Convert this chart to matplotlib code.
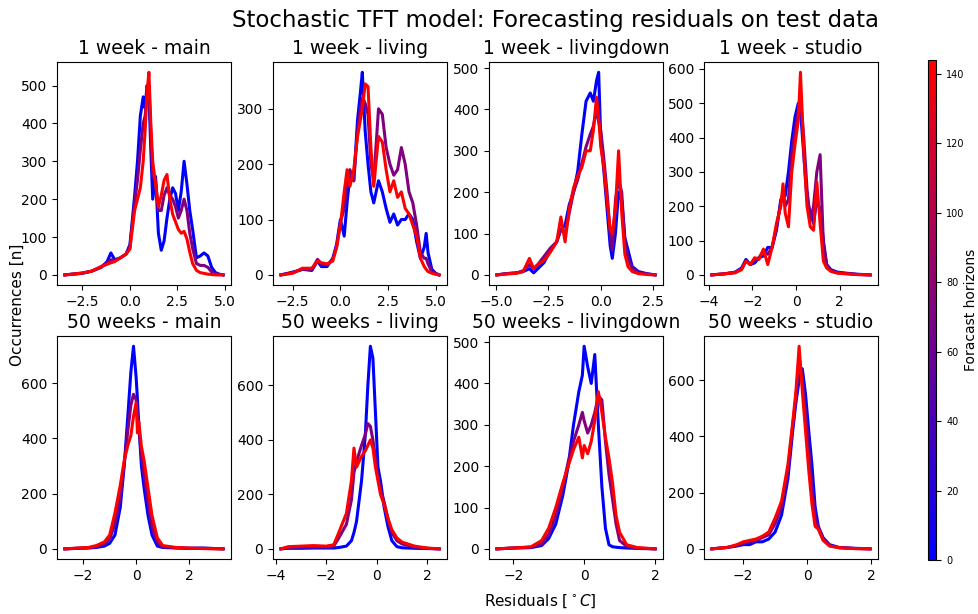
import numpy as np
import matplotlib
matplotlib.use("Agg")
import matplotlib.pyplot as plt
from matplotlib.colors import LinearSegmentedColormap, Normalize
from matplotlib.cm import ScalarMappable
from matplotlib.ticker import MultipleLocator

# ---------------------------------------------------------------------------
# Residual histograms (bin centre -> occurrences) for selected forecast horizons
# ---------------------------------------------------------------------------
horizons = [0, 72, 143]
n_horizons = 144

titles = ["1 week - main", "1 week - living", "1 week - livingdown", "1 week - studio",
          "50 weeks - main", "50 weeks - living", "50 weeks - livingdown", "50 weeks - studio"]

# 1 week - main
x_w1_main = [-3.42, -3.0, -2.5, -2.0, -1.5, -1.2, -1.0, -0.8, -0.5, -0.2, 0.0, 0.1, 0.25, 0.4,
             0.55, 0.7, 0.8, 0.9, 1.0, 1.1, 1.2, 1.35, 1.5, 1.65, 1.8, 1.95, 2.1, 2.25, 2.4,
             2.55, 2.7, 2.85, 3.0, 3.15, 3.3, 3.5, 3.7, 3.9, 4.1, 4.3, 4.5, 4.7, 4.9]
y_w1_main_h0 = [0, 2, 4, 10, 20, 35, 58, 40, 45, 55, 80, 130, 210, 300, 420, 470, 440, 500, 480,
                330, 200, 260, 110, 65, 90, 150, 200, 230, 215, 170, 220, 300, 240, 170, 120,
                45, 50, 58, 50, 20, 6, 2, 0]
y_w1_main_h72 = [0, 2, 5, 10, 22, 32, 40, 38, 45, 55, 72, 120, 190, 250, 330, 400, 420, 470, 500,
                 380, 260, 250, 170, 170, 210, 230, 210, 200, 180, 150, 170, 200, 170, 110, 70,
                 30, 25, 25, 20, 8, 3, 1, 0]
y_w1_main_h143 = [0, 2, 5, 10, 22, 28, 32, 35, 45, 55, 68, 110, 170, 200, 230, 300, 380, 480, 535,
                  400, 300, 240, 180, 210, 250, 265, 200, 160, 140, 120, 110, 115, 95, 60, 30,
                  12, 6, 4, 2, 1, 0, 0, 0]

# 1 week - living
x_w1_living = [-3.12, -2.5, -2.0, -1.5, -1.2, -1.0, -0.7, -0.4, -0.2, 0.0, 0.2, 0.35, 0.5, 0.7,
               0.9, 1.05, 1.15, 1.3, 1.45, 1.6, 1.75, 2.0, 2.2, 2.4, 2.6, 2.8, 3.0, 3.2, 3.4,
               3.6, 3.8, 4.0, 4.2, 4.4, 4.5, 4.6, 4.8, 5.0, 5.18]
y_w1_living_h0 = [0, 5, 10, 8, 25, 15, 15, 30, 55, 100, 70, 130, 180, 170, 280, 330, 366, 260,
                  200, 150, 130, 170, 150, 120, 95, 110, 90, 100, 100, 110, 100, 60, 30, 50,
                  75, 40, 10, 3, 0]
y_w1_living_h72 = [0, 4, 10, 10, 28, 20, 18, 28, 50, 95, 120, 170, 190, 170, 260, 300, 320, 310,
                   290, 200, 170, 300, 290, 230, 200, 180, 190, 230, 200, 150, 130, 90, 40, 30,
                   30, 20, 5, 2, 0]
y_w1_living_h143 = [0, 3, 12, 12, 25, 22, 20, 25, 50, 90, 150, 190, 160, 190, 250, 280, 300, 345,
                    340, 230, 160, 250, 240, 190, 150, 170, 140, 150, 120, 110, 90, 70, 30, 15,
                    10, 6, 3, 1, 0]

# 1 week - livingdown
x_w1_livingdown = [-4.95, -4.5, -4.0, -3.7, -3.4, -3.2, -3.0, -2.7, -2.4, -2.1, -1.9, -1.7, -1.5,
                   -1.3, -1.1, -0.9, -0.7, -0.5, -0.35, -0.2, -0.1, 0.0, 0.15, 0.3, 0.45, 0.55,
                   0.7, 0.85, 1.0, 1.15, 1.3, 1.5, 1.8, 2.2, 2.59]
y_w1_livingdown_h0 = [0, 3, 5, 8, 15, 5, 15, 30, 60, 80, 110, 120, 170, 200, 250, 340, 420, 440,
                      420, 470, 490, 330, 250, 160, 70, 40, 100, 200, 180, 90, 60, 20, 8, 3, 0]
y_w1_livingdown_h72 = [0, 3, 5, 10, 25, 15, 25, 45, 65, 80, 110, 100, 150, 200, 230, 270, 310,
                       340, 360, 400, 370, 350, 280, 200, 100, 60, 180, 230, 200, 80, 40, 15, 5,
                       2, 0]
y_w1_livingdown_h143 = [0, 2, 4, 8, 40, 15, 25, 35, 55, 80, 140, 80, 160, 210, 240, 260, 300, 300,
                        350, 430, 380, 310, 260, 180, 110, 100, 160, 300, 150, 50, 20, 8, 3, 1, 0]

# 1 week - studio
x_w1_studio = [-3.86, -3.3, -2.8, -2.5, -2.3, -2.1, -1.9, -1.7, -1.5, -1.3, -1.1, -0.9, -0.7,
               -0.6, -0.5, -0.35, -0.2, -0.05, 0.1, 0.2, 0.35, 0.5, 0.65, 0.8, 0.95, 1.1, 1.25,
               1.4, 1.6, 1.9, 2.3, 2.8, 3.39]
y_w1_studio_h0 = [0, 3, 8, 20, 45, 30, 35, 50, 55, 80, 80, 130, 220, 225, 230, 300, 390, 460, 500,
                  480, 350, 220, 180, 150, 220, 190, 100, 30, 15, 8, 5, 2, 0]
y_w1_studio_h72 = [0, 3, 7, 18, 40, 30, 45, 50, 70, 60, 80, 140, 210, 240, 200, 220, 350, 420,
                   480, 520, 400, 250, 160, 200, 300, 350, 90, 30, 12, 6, 4, 1, 0]
y_w1_studio_h143 = [0, 3, 6, 15, 40, 30, 50, 45, 75, 30, 80, 150, 200, 265, 180, 140, 300, 380,
                    450, 590, 360, 200, 140, 130, 270, 150, 40, 20, 10, 5, 3, 1, 0]

# 50 weeks - main
x_w50_main = [-2.69, -2.2, -1.8, -1.5, -1.2, -1.0, -0.8, -0.6, -0.45, -0.3, -0.2, -0.1, 0.0,
              0.05, 0.1, 0.2, 0.3, 0.45, 0.6, 0.8, 1.0, 1.5, 2.0, 2.5, 3.0, 3.28]
y_w50_main_h0 = [0, 2, 3, 5, 10, 20, 50, 150, 300, 500, 640, 734, 620, 540, 450, 300, 220, 120,
                 50, 10, 5, 3, 2, 3, 1, 0]
y_w50_main_h72 = [0, 2, 4, 8, 18, 35, 90, 190, 310, 440, 520, 560, 540, 480, 440, 340, 270, 170,
                  80, 25, 8, 4, 2, 2, 1, 0]
y_w50_main_h143 = [0, 3, 5, 12, 25, 50, 130, 230, 320, 380, 410, 480, 530, 420, 460, 370, 320,
                   220, 120, 40, 12, 5, 3, 1, 0, 0]

# 50 weeks - living
x_w50_living = [-3.79, -3.5, -3.0, -2.5, -2.0, -1.7, -1.5, -1.2, -1.0, -0.9, -0.8, -0.6, -0.45,
                -0.35, -0.25, -0.15, -0.05, 0.05, 0.15, 0.3, 0.45, 0.6, 0.8, 1.0, 1.5, 2.0, 2.47]
y_w50_living_h0 = [0, 2, 2, 3, 3, 3, 5, 10, 30, 60, 100, 250, 420, 600, 744, 700, 500, 300, 250,
                   150, 80, 30, 8, 4, 2, 1, 0]
y_w50_living_h72 = [0, 5, 7, 8, 7, 10, 40, 90, 180, 280, 320, 380, 420, 460, 450, 400, 330, 260,
                    220, 170, 110, 60, 30, 18, 7, 2, 0]
y_w50_living_h143 = [0, 8, 10, 12, 10, 15, 60, 130, 250, 370, 300, 340, 360, 380, 400, 370, 300,
                     250, 200, 160, 110, 70, 40, 25, 10, 3, 0]

# 50 weeks - livingdown
x_w50_livingdown = [-2.46, -2.0, -1.5, -1.2, -1.0, -0.8, -0.6, -0.45, -0.3, -0.15, -0.05, 0.0,
                    0.1, 0.2, 0.3, 0.4, 0.5, 0.6, 0.7, 0.8, 0.9, 1.0, 1.2, 1.5, 2.0]
y_w50_livingdown_h0 = [0, 2, 3, 8, 25, 60, 130, 200, 300, 380, 420, 490, 440, 400, 470, 300, 150,
                       50, 10, 5, 4, 3, 2, 1, 0]
y_w50_livingdown_h72 = [0, 2, 4, 12, 35, 80, 150, 210, 260, 300, 330, 310, 280, 300, 330, 370,
                        360, 260, 180, 120, 60, 20, 6, 2, 0]
y_w50_livingdown_h143 = [0, 2, 5, 20, 50, 100, 160, 200, 240, 270, 220, 250, 230, 260, 310, 380,
                         330, 270, 220, 160, 80, 40, 10, 3, 0]

# 50 weeks - studio
x_w50_studio = [-2.98, -2.5, -2.2, -2.0, -1.8, -1.6, -1.4, -1.2, -1.0, -0.8, -0.6, -0.45, -0.35,
                -0.25, -0.15, -0.05, 0.05, 0.15, 0.25, 0.35, 0.5, 0.7, 1.0, 1.5, 1.97]
y_w50_studio_h0 = [0, 5, 10, 15, 15, 25, 25, 35, 60, 120, 250, 420, 520, 600, 640, 550, 420, 300,
                   150, 80, 40, 15, 5, 2, 0]
y_w50_studio_h72 = [0, 5, 12, 20, 25, 30, 40, 50, 90, 150, 280, 440, 540, 680, 600, 480, 350, 220,
                    110, 75, 35, 12, 4, 1, 0]
y_w50_studio_h143 = [0, 5, 15, 25, 30, 35, 45, 60, 110, 170, 300, 450, 560, 720, 560, 420, 280,
                     160, 80, 70, 30, 10, 4, 1, 0]

panels = [
    (x_w1_main, [y_w1_main_h0, y_w1_main_h72, y_w1_main_h143]),
    (x_w1_living, [y_w1_living_h0, y_w1_living_h72, y_w1_living_h143]),
    (x_w1_livingdown, [y_w1_livingdown_h0, y_w1_livingdown_h72, y_w1_livingdown_h143]),
    (x_w1_studio, [y_w1_studio_h0, y_w1_studio_h72, y_w1_studio_h143]),
    (x_w50_main, [y_w50_main_h0, y_w50_main_h72, y_w50_main_h143]),
    (x_w50_living, [y_w50_living_h0, y_w50_living_h72, y_w50_living_h143]),
    (x_w50_livingdown, [y_w50_livingdown_h0, y_w50_livingdown_h72, y_w50_livingdown_h143]),
    (x_w50_studio, [y_w50_studio_h0, y_w50_studio_h72, y_w50_studio_h143]),
]

# ---------------------------------------------------------------------------
cmap = LinearSegmentedColormap.from_list("blue_red", ["#0000ff", "#ff0000"])
norm = Normalize(vmin=0, vmax=n_horizons)

fig = plt.figure(figsize=(9.79, 6.14), dpi=100)

lefts = [0.0582, 0.2789, 0.4995, 0.7191]
bottoms = [0.5358, 0.0896]
width, height = 0.1777, 0.363

for i, (xs, curves) in enumerate(panels):
    ax = fig.add_axes([lefts[i % 4], bottoms[i // 4], width, height])
    for h, ys in zip(horizons, curves):
        ax.plot(xs, ys, color=cmap(norm(h)), lw=2.2)
    ax.set_title(titles[i], fontsize=13.5)
    ax.tick_params(labelsize=10)
    if max(max(c) for c in curves) >= 600:
        ax.yaxis.set_major_locator(MultipleLocator(200))

fig.suptitle("Stochastic TFT model: Forecasting residuals on test data",
             x=0.567, y=0.985, fontsize=16.5)
fig.text(0.018, 0.503, "Occurrences [n]", rotation=90, ha="center", va="center", fontsize=11)
fig.text(0.552, 0.02, r"Residuals [$^\circ C$]", ha="center", va="center", fontsize=11)

cax = fig.add_axes([0.948, 0.088, 0.0085, 0.814])
sm = ScalarMappable(norm=norm, cmap=cmap)
cb = fig.colorbar(sm, cax=cax)
cb.set_ticks([0, 20, 40, 60, 80, 100, 120, 140])
cb.ax.tick_params(labelsize=7)
fig.text(0.9915, 0.495, "Foracast horizons", rotation=90, ha="center", va="center",
         fontsize=10)

fig.savefig("out.png", dpi=100)
